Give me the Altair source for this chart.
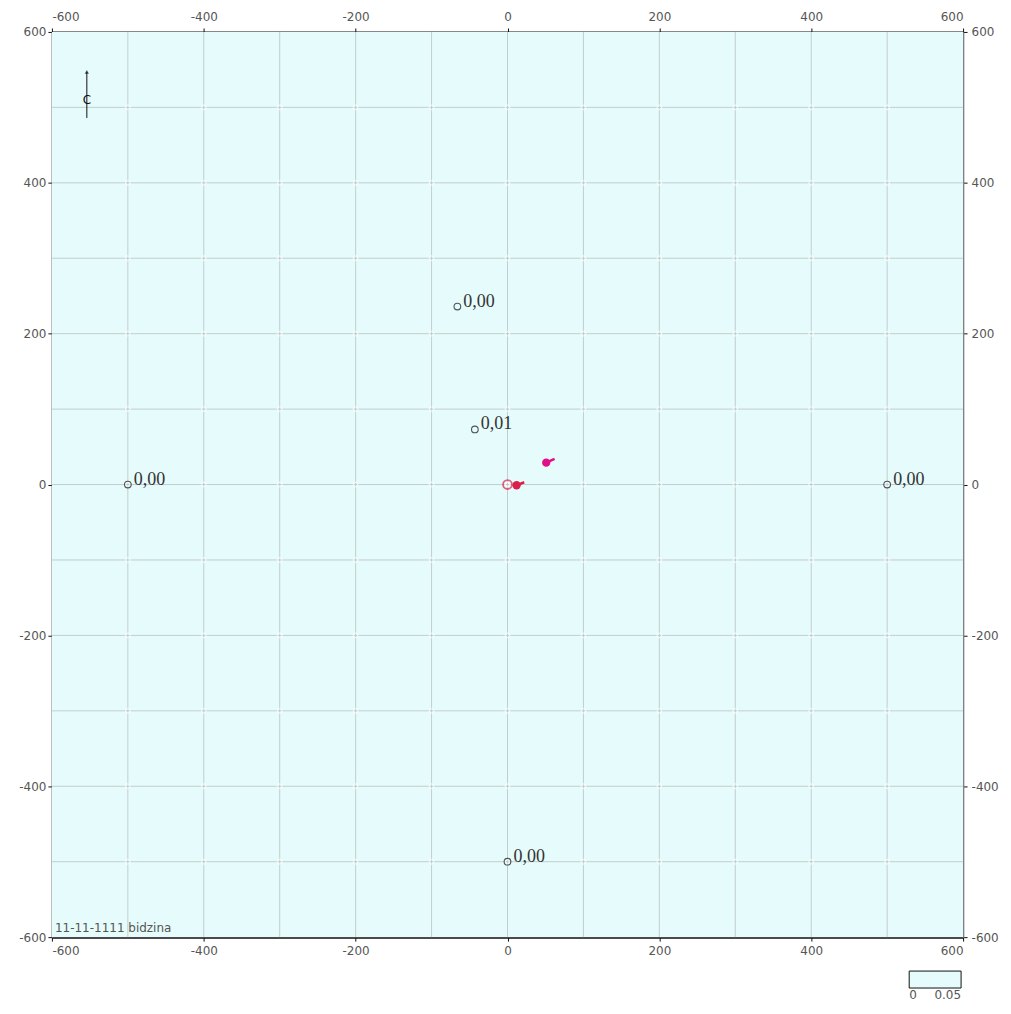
import altair as alt
import pandas as pd

# ---- data ----
axis_ticks = [-600, -400, -200, 0, 200, 400, 600]
grid_vals = [-500, -400, -300, -200, -100, 0, 100, 200, 300, 400, 500]

site_x = [-500, 500, 0, -66, -43]
site_y = [0, 0, -500, 236, 73]
site_lab = ["0,00", "0,00", "0,00", "0,00", "0,01"]

red_open_x = [0]
red_open_y = [0]
red_fill_x = [12, 51]
red_fill_y = [-1, 29]
red_fill_col = ["#d8204a", "#e0108a"]
tail_x = [12, 51]
tail_y = [-1, 29]
tail_x2 = [22, 62]
tail_y2 = [3, 34]

compass_x = [-554]
compass_y0 = [486]
compass_y1 = [547]
compass_letter_y = [510]

stamp_text = ["11-11-1111 bidzina"]
legend_vals = [0, 0.05]
bg_value = [0]

BG = "#e6fbfb"
W, H = 913, 907
sc = alt.Scale(domain=[-600, 600], nice=False, zero=False)

# ---- tables ----
bg_df = pd.DataFrame({"x": [-600], "x2": [600], "y": [-600], "y2": [600], "v": bg_value})
grid_df = pd.DataFrame({"g": grid_vals})
inter_df = pd.DataFrame([{"x": a, "y": b} for a in grid_vals for b in grid_vals])
site_df = pd.DataFrame({"x": site_x, "y": site_y, "lab": site_lab})
ropen_df = pd.DataFrame({"x": red_open_x, "y": red_open_y})
rfill_df = pd.DataFrame({"x": red_fill_x, "y": red_fill_y, "c": red_fill_col})
tail_df = pd.DataFrame({"x": tail_x, "y": tail_y, "x2": tail_x2, "y2": tail_y2, "c": red_fill_col})
comp_df = pd.DataFrame({"x": compass_x, "y": compass_y0, "y2": compass_y1, "ly": compass_letter_y})
stamp_df = pd.DataFrame({"x": [-596], "y": [-597], "t": stamp_text})

lab_common = dict(labelFont="DejaVu Sans", labelFontSize=12, labelColor="#555",
                  tickColor="#111", tickSize=4, values=axis_ticks, grid=False,
                  labelExpr="'' + datum.value")

bottom_ax = alt.Axis(orient="bottom", title=None, domainColor="#111", domainWidth=2,
                     labelPadding=4, **lab_common)
left_ax = alt.Axis(orient="left", title=None, domainColor="#333", domainWidth=1.5,
                   labelPadding=2, **lab_common)
top_ax = alt.Axis(orient="top", title=None, domainColor="#111", domainWidth=2,
                  labelPadding=4, **lab_common)
right_ax = alt.Axis(orient="right", title=None, domainColor="#777", domainWidth=1.5,
                    labelPadding=4, **lab_common)

background = alt.Chart(bg_df).mark_rect().encode(
    x=alt.X("x:Q", scale=sc, axis=bottom_ax),
    x2="x2:Q",
    y=alt.Y("y:Q", scale=sc, axis=left_ax),
    y2="y2:Q",
    color=alt.Color("v:Q", scale=alt.Scale(domain=legend_vals, range=[BG, BG]),
                    legend=alt.Legend(orient="none", legendX=859, legendY=941,
                                      direction="horizontal", gradientLength=52,
                                      gradientThickness=17, gradientStrokeColor="#111",
                                      gradientStrokeWidth=1, values=legend_vals,
                                      format="~g", title="", labelFontSize=12,
                                      labelFont="DejaVu Sans", labelColor="#555",
                                      labelOffset=2)),
)

vgrid = alt.Chart(grid_df).mark_rule(color="#c2cece", strokeWidth=1).encode(
    x=alt.X("g:Q", scale=sc, axis=None),
    y=alt.datum(-600, scale=sc, axis=None),
    y2=alt.datum(600),
)
hgrid = alt.Chart(grid_df).mark_rule(color="#c2cece", strokeWidth=1).encode(
    y=alt.Y("g:Q", scale=sc, axis=None),
    x=alt.datum(-600, scale=sc, axis=None),
    x2=alt.datum(600),
)

inter = alt.Chart(inter_df).mark_point(shape="circle", color="white", size=22,
                                       strokeWidth=1.2, filled=False).encode(
    x=alt.X("x:Q", scale=sc, axis=None),
    y=alt.Y("y:Q", scale=sc, axis=None),
)

compass_rule = alt.Chart(comp_df).mark_rule(color="#111", strokeWidth=1).encode(
    x=alt.X("x:Q", scale=sc, axis=None),
    y=alt.Y("y:Q", scale=sc, axis=None),
    y2="y2:Q",
)
compass_letter = alt.Chart(comp_df).mark_text(text="С", font="DejaVu Sans", fontSize=12,
                                              color="#111").encode(
    x=alt.X("x:Q", scale=sc, axis=None),
    y=alt.Y("ly:Q", scale=sc, axis=None),
)
compass_head = alt.Chart(comp_df).mark_point(shape="triangle-up", filled=True, color="#111",
                                             size=18).encode(
    x=alt.X("x:Q", scale=sc, axis=None),
    y=alt.Y("y2:Q", scale=sc, axis=None),
)

sites = alt.Chart(site_df).mark_point(shape="circle", color="#111", size=45,
                                      strokeWidth=1.1, filled=False).encode(
    x=alt.X("x:Q", scale=sc, axis=top_ax),
    y=alt.Y("y:Q", scale=sc, axis=right_ax),
)
site_labels = alt.Chart(site_df).mark_text(align="left", baseline="alphabetic", dx=6, dy=0,
                                           font="Liberation Serif", fontSize=18,
                                           color="#333").encode(
    x=alt.X("x:Q", scale=sc, axis=None),
    y=alt.Y("y:Q", scale=sc, axis=None),
    text="lab:N",
)

tails = alt.Chart(tail_df).mark_rule(strokeWidth=2.5).encode(
    x=alt.X("x:Q", scale=sc, axis=None),
    y=alt.Y("y:Q", scale=sc, axis=None),
    x2="x2:Q",
    y2="y2:Q",
    color=alt.Color("c:N", scale=None, legend=None),
)
red_open = alt.Chart(ropen_df).mark_point(shape="circle", color="#e0204a", size=80,
                                          strokeWidth=1.8, filled=False).encode(
    x=alt.X("x:Q", scale=sc, axis=None),
    y=alt.Y("y:Q", scale=sc, axis=None),
)
red_fill = alt.Chart(rfill_df).mark_point(shape="circle", size=70, filled=True,
                                          opacity=1).encode(
    x=alt.X("x:Q", scale=sc, axis=None),
    y=alt.Y("y:Q", scale=sc, axis=None),
    color=alt.Color("c:N", scale=None, legend=None),
)

stamp = alt.Chart(stamp_df).mark_text(align="left", baseline="bottom", font="DejaVu Sans",
                                      fontSize=12, color="#555").encode(
    x=alt.X("x:Q", scale=sc, axis=None),
    y=alt.Y("y:Q", scale=sc, axis=None),
    text="t:N",
)

chart = alt.layer(
    background, vgrid, hgrid, inter, compass_rule, compass_head, compass_letter,
    sites, site_labels, tails, red_open, red_fill, stamp,
).resolve_axis(x="independent", y="independent").resolve_scale(color="independent").properties(
    width=W, height=H,
    autosize=alt.AutoSizeParams(type="none"),
    padding={"left": 44, "top": 23, "right": 40, "bottom": 66},
).configure_view(stroke=None)

chart.save("out.html", embed_options={"renderer": "svg", "actions": False})
